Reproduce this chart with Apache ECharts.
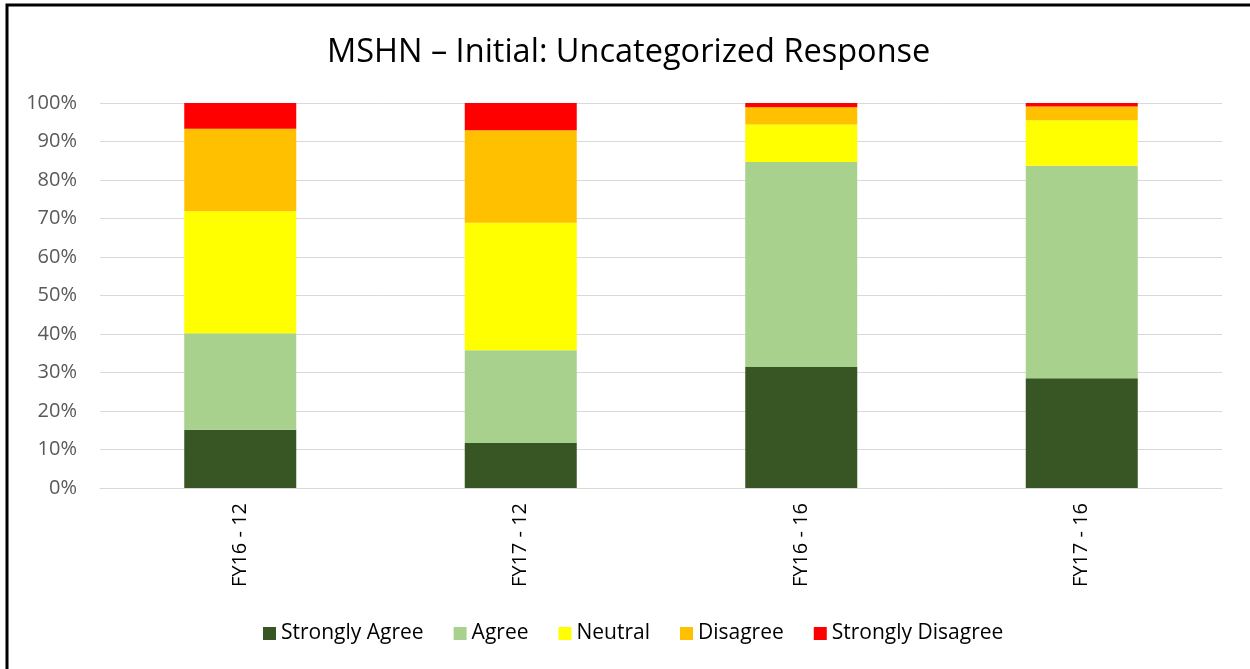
<!DOCTYPE html>
<html>
<head>
<meta charset="utf-8">
<script src="https://cdn.jsdelivr.net/npm/echarts@6/dist/echarts.min.js"></script>
<style>html,body{margin:0;padding:0;background:#fff;}#c{width:1250px;height:669px;}</style>
</head>
<body>
<div id="c"></div>
<script>
const categories = ['FY16 - 12', 'FY17 - 12', 'FY16 - 16', 'FY17 - 16'];
const stronglyAgree = [15.1, 11.7, 31.4, 28.5];
const agree = [25.1, 24.1, 53.3, 55.2];
const neutral = [31.7, 33.1, 9.7, 11.8];
const disagree = [21.4, 24.0, 4.5, 3.6];
const stronglyDisagree = [6.7, 7.1, 1.1, 0.9];
const seriesNames = ['Strongly Agree', 'Agree', 'Neutral', 'Disagree', 'Strongly Disagree'];
const seriesColors = ['#375623', '#a9d18e', '#ffff00', '#ffc000', '#ff0000'];
const seriesData = [stronglyAgree, agree, neutral, disagree, stronglyDisagree];

const chart = echarts.init(document.getElementById('c'));
chart.setOption({
  animation: false,
  backgroundColor: '#fff',
  title: {
    text: 'MSHN – Initial: Uncategorized Response',
    left: 322, top: 31,
    textStyle: { fontFamily: 'Open Sans', fontSize: 32.5, fontWeight: 'normal', color: '#000' }
  },
  graphic: [{
    type: 'rect', shape: { x: 7, y: 5, width: 1300, height: 700 },
    style: { fill: 'none', stroke: '#000', lineWidth: 3 }, silent: true
  }],
  legend: {
    bottom: 20, left: 258,
    itemWidth: 13, itemHeight: 13, itemGap: 30,
    icon: 'rect',
    textStyle: { fontFamily: 'Open Sans', fontSize: 21, color: '#000' },
    data: seriesNames
  },
  grid: { left: 100, right: 28, top: 103, bottom: 181, containLabel: false },
  xAxis: {
    type: 'category', data: categories,
    axisLine: { lineStyle: { color: '#d9d9d9', width: 1 } },
    axisTick: { show: false },
    axisLabel: { rotate: 90, margin: 15, fontFamily: 'Open Sans', fontSize: 20, color: '#000' }
  },
  yAxis: {
    type: 'value', min: 0, max: 100, interval: 10,
    axisLine: { show: false }, axisTick: { show: false },
    splitLine: { lineStyle: { color: '#d9d9d9', width: 1 } },
    axisLabel: { formatter: '{value}%', margin: 23, fontFamily: 'Open Sans', fontSize: 20, color: '#595959' }
  },
  series: seriesNames.map((n, i) => ({
    name: n, type: 'bar', stack: 'total', barWidth: 112,
    itemStyle: { color: seriesColors[i] },
    data: seriesData[i]
  }))
});
</script>
</body>
</html>
